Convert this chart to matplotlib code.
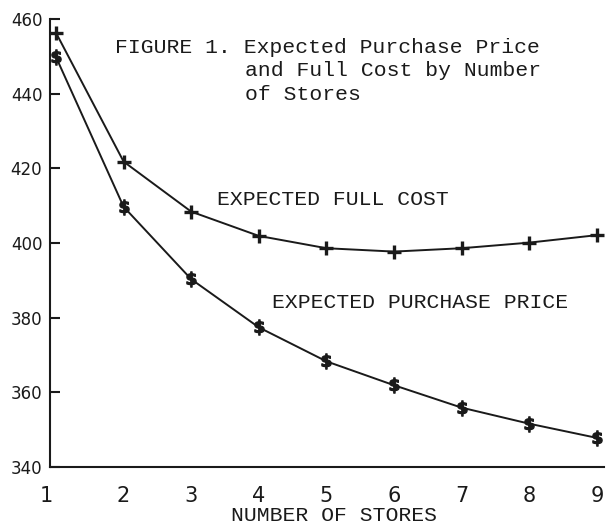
"""
plot.py — Expected purchase price and full cost by number of stores.
"""

import matplotlib
matplotlib.use("Agg")
import matplotlib.pyplot as plt
import matplotlib.transforms as mtransforms

# ── Data ────────────────────────────────────────────────────────────────────
stores = [1, 2, 3, 4, 5, 6, 7, 8, 9]
full_cost = [456.3, 421.8, 408.4, 401.9, 398.6, 397.7, 398.6, 400.1, 402.1]
purchase_price = [449.8, 409.7, 390.3, 377.4, 368.3, 361.9, 355.9, 351.6, 347.8]
y_ticks = [340, 360, 380, 400, 420, 440, 460]

MONO = "Liberation Mono"
INK = "#1a1a1a"

fig = plt.figure(figsize=(6.08, 5.29), dpi=100, facecolor="white")
ax = fig.add_axes([50 / 608, 62 / 529, 554 / 608, 448 / 529])

# ── Lines ───────────────────────────────────────────────────────────────────
ax.plot(stores, full_cost, color=INK, linewidth=1.4,
        marker="+", markersize=9.5, markeredgewidth=2.4)
ax.plot(stores, purchase_price, color=INK, linewidth=1.4,
        marker=r"$\mathbf{\$}$", markersize=11, markeredgewidth=0.9)

# ── Axes ────────────────────────────────────────────────────────────────────
ax.set_xlim(0.911, 9.106)
ax.set_ylim(340, 460)
ax.spines[["top", "right"]].set_visible(False)
ax.spines[["left", "bottom"]].set_linewidth(1.5)
ax.spines[["left", "bottom"]].set_color(INK)

ax.set_yticks(y_ticks)
ax.tick_params(axis="y", direction="in", length=7, width=1.5, pad=5.5,
               labelsize=12, colors=INK)
ax.set_xticks(stores)
ax.tick_params(axis="x", length=0, pad=14, labelsize=15, colors=INK)
for lab in ax.get_yticklabels():
    lab.set_fontfamily("DejaVu Sans")

# the "1" sits a little left of its point in the original
first = ax.get_xticklabels()[0]
first.set_transform(first.get_transform() +
                    mtransforms.ScaledTranslation(-10 / 100, 0, fig.dpi_scale_trans))

ax.set_xlabel("NUMBER OF STORES", fontfamily=MONO, fontsize=15.4, color=INK)
ax.xaxis.set_label_coords(0.512, -0.087)

# ── Annotations ─────────────────────────────────────────────────────────────
txt = dict(fontfamily=MONO, fontsize=15.4, color=INK, va="baseline", ha="left")
ax.text(1.873, 450.9, "FIGURE 1. Expected Purchase Price", **txt)
ax.text(3.796, 444.6, "and Full Cost by Number", **txt)
ax.text(3.796, 438.3, "of Stores", **txt)
ax.text(3.377, 410.2, "EXPECTED FULL COST", **txt)
ax.text(4.19, 382.6, "EXPECTED PURCHASE PRICE", **txt)

fig.savefig("out.png", dpi=100, facecolor="white")
plt.close(fig)
